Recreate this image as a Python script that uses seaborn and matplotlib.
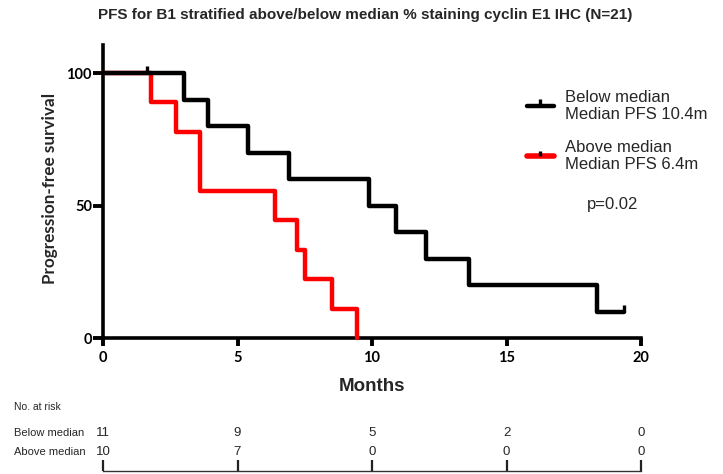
import numpy as np
import pandas as pd
import seaborn as sns
import matplotlib
matplotlib.use("Agg")
import matplotlib.pyplot as plt
from matplotlib.lines import Line2D
from matplotlib.path import Path
from matplotlib import font_manager

# ---- Kaplan-Meier step data (months, % progression-free) ----
below_months = [0, 3.0, 3.9, 5.4, 6.9, 9.9, 10.9, 12.0, 13.6, 18.35, 19.35]
below_surv = [100, 90, 80, 70, 60, 50, 40, 30, 20, 10, 10]
above_months = [0, 1.78, 2.71, 3.6, 6.39, 7.22, 7.5, 8.52, 9.43]
above_surv = [100, 88.9, 77.8, 55.6, 44.4, 33.3, 22.2, 11.1, 0]

# censored observations (below-median group)
censor_months = [1.64, 19.35]
censor_surv = [100, 10]

# ---- axis ticks and number-at-risk table ----
x_ticks = [0, 5, 10, 15, 20]
y_ticks = [0, 50, 100]
risk_times = [0, 5, 10, 15, 20]
risk_below = [11, 9, 5, 2, 0]
risk_above = [10, 7, 0, 0, 0]

group_labels = ["Below median\nMedian PFS 10.4m", "Above median\nMedian PFS 6.4m"]
p_text = "p=0.02"
title = "PFS for B1 stratified above/below median % staining cyclin E1 IHC (N=21)"

sns.set_style("ticks")
plt.rcParams["font.family"] = ["Liberation Sans", "DejaVu Sans"]

available = {f.name for f in font_manager.fontManager.ttflist}
narrow = "Liberation Sans Narrow" if "Liberation Sans Narrow" in available else "Liberation Sans"

W, H = 723, 474
fig = plt.figure(figsize=(W / 100, H / 100), dpi=100)

# main axes: x 0..20 spans px 103..641, y 0 at px 338, top of spine px 45
ax = fig.add_axes([103 / W, (H - 338) / H, 538 / W, 293 / H])

df_below = pd.DataFrame({"months": below_months, "surv": below_surv})
df_above = pd.DataFrame({"months": above_months, "surv": above_surv})

sns.lineplot(data=df_above, x="months", y="surv", color="#ff0000", lw=3.2,
             drawstyle="steps-post", ax=ax, clip_on=False, zorder=3)
sns.lineplot(data=df_below, x="months", y="surv", color="black", lw=3.2,
             drawstyle="steps-post", ax=ax, clip_on=False, zorder=4)

tick_marker = Path([(0, 0), (0, 1)], [Path.MOVETO, Path.LINETO])
ax.plot(censor_months, censor_surv, ls="none", marker=tick_marker, ms=10,
        mec="black", mew=2.4, clip_on=False, zorder=5)

ax.set_xlim(0, 20)
ax.set_ylim(0, 110.6)
ax.set_xticks(x_ticks)
ax.set_yticks(y_ticks)
ax.set_xticklabels([str(v) for v in x_ticks])
ax.set_yticklabels([str(v) for v in y_ticks])

for s in ("top", "right"):
    ax.spines[s].set_visible(False)
for s in ("left", "bottom"):
    ax.spines[s].set_linewidth(2.6)
    ax.spines[s].set_color("black")

ax.tick_params(axis="x", direction="out", length=6, width=2.8, pad=3,
               labelsize=10.5, colors="black")
ax.tick_params(axis="y", direction="out", length=7, width=2.8, pad=1,
               labelsize=10.5, colors="black")
for lab in ax.get_xticklabels() + ax.get_yticklabels():
    lab.set_fontfamily(["Lato", "DejaVu Sans"])
    lab.set_fontweight("bold")

ax.set_xlabel("Months", fontsize=13.5, fontweight="bold", family=[narrow, "DejaVu Sans"])
ax.xaxis.set_label_coords(0.5, -0.135)
ax.set_ylabel("Progression-free survival", fontsize=12.3, fontweight="bold",
              family=["Lato", "DejaVu Sans"])
ax.yaxis.set_label_coords(-0.083, 0.51)

fig.text(365 / W, (H - 15) / H, title, ha="center", va="center",
         fontsize=11, fontweight="bold")

# legend with censor-tick handles
handles = [
    Line2D([0], [0], color="black", lw=3.2, marker=tick_marker, ms=10,
           mec="black", mew=2.4),
    Line2D([0], [0], color="#ff0000", lw=4, marker=tick_marker, ms=7,
           mec="black", mew=2.4),
]
leg = fig.legend(handles, group_labels, loc="upper left",
                 bbox_to_anchor=(527 / W, (H - 90) / H), frameon=False,
                 fontsize=12, handlelength=1.6, handletextpad=0.7,
                 labelspacing=1.05, borderpad=0, borderaxespad=0)

fig.text(613 / W, (H - 205) / H, p_text, ha="center", va="center", fontsize=12)

# number-at-risk table
ax2 = fig.add_axes([103 / W, 3 / H, 538 / W, 70 / H])
ax2.set_xlim(0, 20)
ax2.set_ylim(0, 1)
for s in ("top", "right", "left"):
    ax2.spines[s].set_visible(False)
ax2.spines["bottom"].set_linewidth(1.0)
ax2.spines["bottom"].set_color("#333333")
ax2.set_xticks(risk_times)
ax2.set_yticks([])
ax2.tick_params(axis="x", direction="in", length=8, width=1.6, labelbottom=False,
                colors="#222222")
ax2.patch.set_alpha(0)

row1_y = (471 - 433) / 70
row2_y = (471 - 452) / 70
for t, n in zip(risk_times, risk_below):
    ax2.text(t, row1_y, str(n), ha="center", va="center", fontsize=9.5)
for t, n in zip(risk_times, risk_above):
    ax2.text(t, row2_y, str(n), ha="center", va="center", fontsize=9.5)

fig.text(14 / W, (H - 407) / H, "No. at risk", ha="left", va="center", fontsize=7.5)
fig.text(14 / W, (H - 433) / H, "Below median", ha="left", va="center", fontsize=8)
fig.text(14 / W, (H - 452) / H, "Above median", ha="left", va="center", fontsize=8)

fig.savefig("out.png", dpi=100)
